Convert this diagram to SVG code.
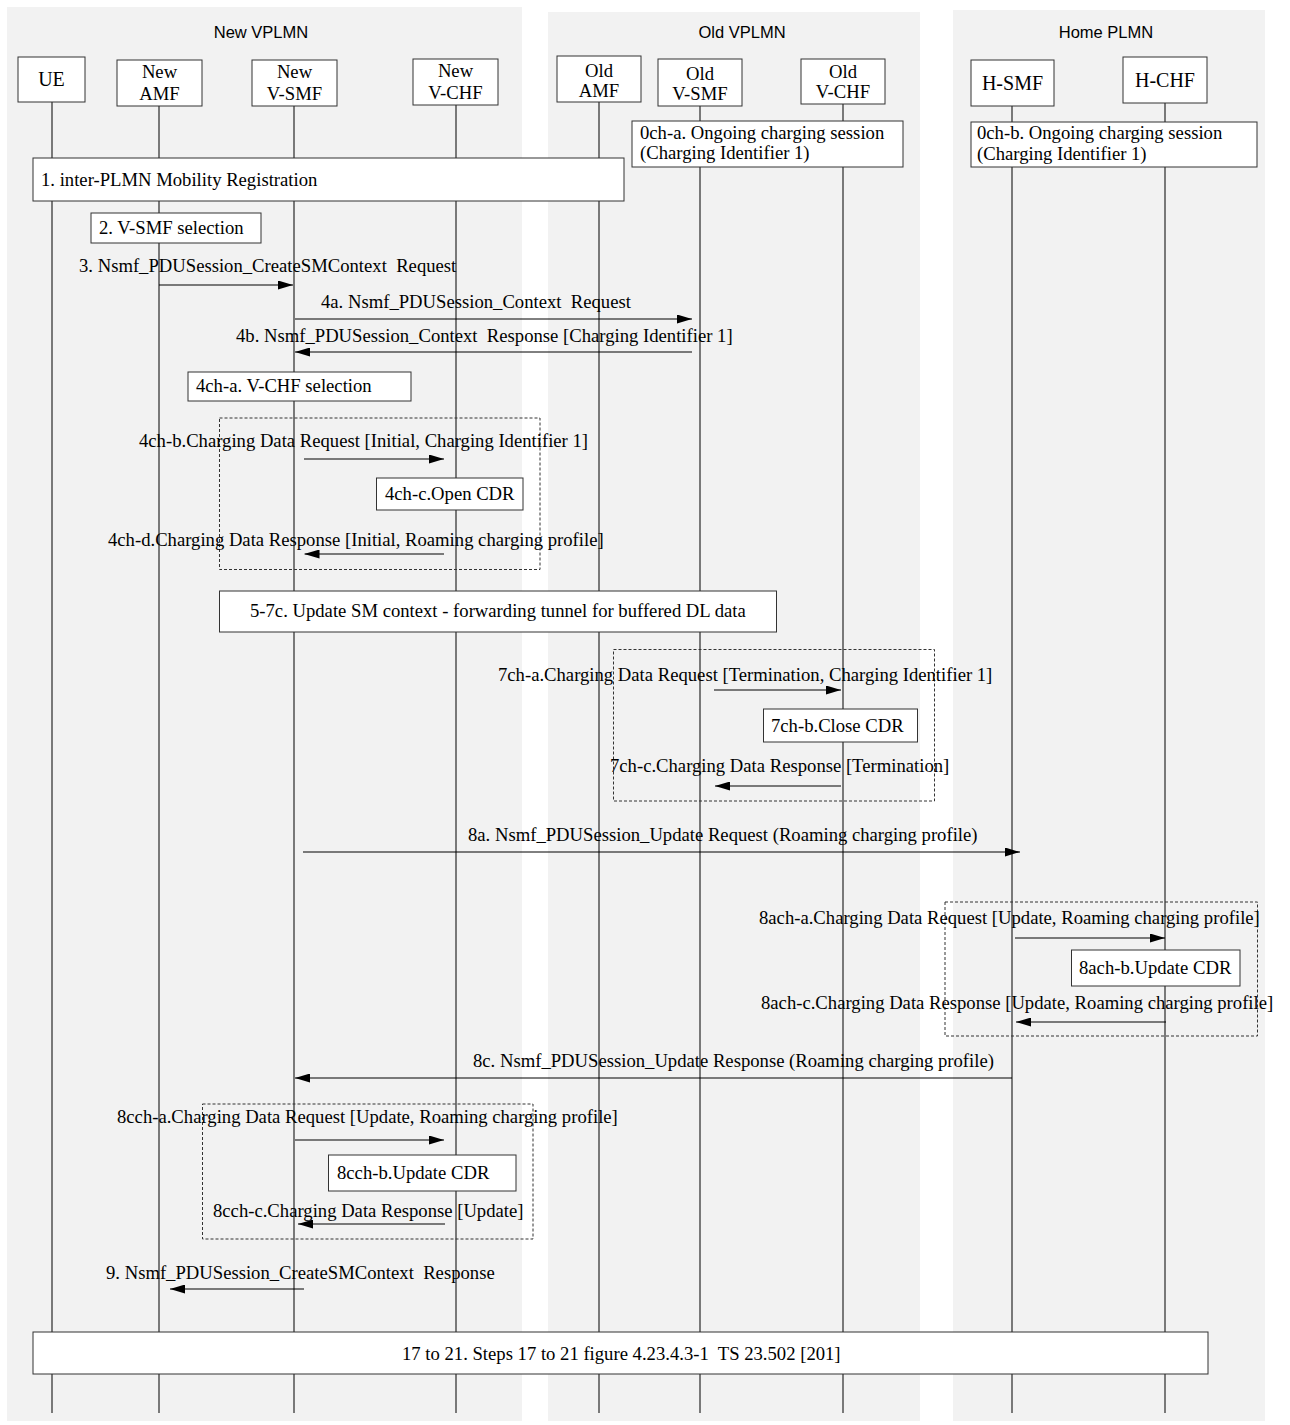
<svg xmlns="http://www.w3.org/2000/svg" width="1290" height="1425" viewBox="0 0 1290 1425">
<style>
.panel{fill:#f2f2f2;stroke:none}
.title{font-family:"Liberation Sans",Arial,sans-serif;font-size:16.5px;fill:#000;text-anchor:middle}
.box{fill:#fff;stroke:#333;stroke-width:1}
.dash{fill:none;stroke:#333;stroke-width:1;stroke-dasharray:3,2}
.nl{font-family:"Liberation Serif","Times New Roman",serif;font-size:18.67px;fill:#000;text-anchor:middle}
.nl1{font-family:"Liberation Serif","Times New Roman",serif;font-size:20px;fill:#000;text-anchor:middle}
.t{font-family:"Liberation Serif","Times New Roman",serif;font-size:18.67px;fill:#000}
.life{stroke:#000;stroke-width:1}
.msg{stroke:#000;stroke-width:1;fill:none;marker-end:url(#ah)}
</style>
<defs>
<marker id="ah" markerUnits="userSpaceOnUse" markerWidth="15" markerHeight="9" refX="15" refY="4.5" orient="auto">
<path d="M0,0 L15,4.5 L0,9 z" fill="#000"/>
</marker>
</defs>
<g id="panels">
<rect class="panel" x="7" y="7" width="515" height="1414"/>
<rect class="panel" x="548" y="12" width="372" height="1409"/>
<rect class="panel" x="953" y="10" width="312" height="1411"/>
<text class="title" x="261" y="38">New VPLMN</text>
<text class="title" x="742" y="38">Old VPLMN</text>
<text class="title" x="1106" y="38">Home PLMN</text>
</g>
<g id="lifelines">
<line class="life" x1="52" y1="102" x2="52" y2="1413"/>
<line class="life" x1="159" y1="106" x2="159" y2="1413"/>
<line class="life" x1="294" y1="106" x2="294" y2="1413"/>
<line class="life" x1="456" y1="105" x2="456" y2="1413"/>
<line class="life" x1="599" y1="102" x2="599" y2="1413"/>
<line class="life" x1="700" y1="106" x2="700" y2="1413"/>
<line class="life" x1="843" y1="104" x2="843" y2="1413"/>
<line class="life" x1="1012" y1="106" x2="1012" y2="1413"/>
<line class="life" x1="1165" y1="103" x2="1165" y2="1413"/>
</g>
<g id="node-ue"><rect class="box" x="18" y="57" width="67" height="45"/><text class="nl1" x="51.5" y="86">UE</text></g>
<g id="node-new-amf"><rect class="box" x="117" y="60" width="85" height="46"/><text class="nl" x="159.5" y="78">New</text><text class="nl" x="159.5" y="100">AMF</text></g>
<g id="node-new-vsmf"><rect class="box" x="252" y="60" width="85" height="46"/><text class="nl" x="294.5" y="78">New</text><text class="nl" x="294.5" y="100">V-SMF</text></g>
<g id="node-new-vchf"><rect class="box" x="413" y="59" width="85" height="46"/><text class="nl" x="455.5" y="77">New</text><text class="nl" x="455.5" y="99">V-CHF</text></g>
<g id="node-old-amf"><rect class="box" x="557" y="56" width="84" height="46"/><text class="nl" x="599" y="77">Old</text><text class="nl" x="599" y="97">AMF</text></g>
<g id="node-old-vsmf"><rect class="box" x="658" y="59" width="84" height="47"/><text class="nl" x="700" y="80">Old</text><text class="nl" x="700" y="100">V-SMF</text></g>
<g id="node-old-vchf"><rect class="box" x="801" y="59" width="84" height="45"/><text class="nl" x="843" y="78">Old</text><text class="nl" x="843" y="98">V-CHF</text></g>
<g id="node-hsmf"><rect class="box" x="971" y="60" width="83" height="46"/><text class="nl1" x="1012.5" y="90">H-SMF</text></g>
<g id="node-hchf"><rect class="box" x="1123" y="57" width="84" height="46"/><text class="nl1" x="1165" y="87">H-CHF</text></g>
<g id="step-0ch-a"><rect class="box" x="632" y="121" width="271" height="46"/><text class="t" x="640" y="139">0ch-a. Ongoing charging session</text><text class="t" x="640" y="159">(Charging Identifier 1)</text></g>
<g id="step-0ch-b"><rect class="box" x="971" y="122" width="286" height="45"/><text class="t" x="977" y="139">0ch-b. Ongoing charging session</text><text class="t" x="977" y="160">(Charging Identifier 1)</text></g>
<g id="step-1"><rect class="box" x="33" y="158" width="591" height="43"/><text class="t" x="41" y="186">1. inter-PLMN Mobility Registration</text></g>
<g id="step-2"><rect class="box" x="91" y="213" width="170" height="30"/><text class="t" x="99" y="234">2. V-SMF selection</text></g>
<g id="step-4ch-a"><rect class="box" x="188" y="372" width="223" height="29"/><text class="t" x="196" y="392">4ch-a. V-CHF selection</text></g>
<g id="group-4ch"><rect class="dash" x="219.5" y="418" width="320.5" height="151.5"/></g>
<g id="step-4ch-c"><rect class="box" x="376.5" y="478" width="146.5" height="32"/><text class="t" x="385" y="500">4ch-c.Open CDR</text></g>
<g id="step-5-7c"><rect class="box" x="219.5" y="591" width="557" height="41"/><text class="t" x="250" y="617">5-7c. Update SM context - forwarding tunnel for buffered DL data</text></g>
<g id="group-7ch"><rect class="dash" x="613.5" y="649.5" width="321" height="151.5"/></g>
<g id="step-7ch-b"><rect class="box" x="763.5" y="709" width="154" height="33"/><text class="t" x="771" y="732">7ch-b.Close CDR</text></g>
<g id="group-8ach"><rect class="dash" x="945" y="902" width="312.5" height="134"/></g>
<g id="step-8ach-b"><rect class="box" x="1071.5" y="950" width="168.5" height="36"/><text class="t" x="1079" y="974">8ach-b.Update CDR</text></g>
<g id="group-8cch"><rect class="dash" x="202.5" y="1104" width="330.5" height="135"/></g>
<g id="step-8cch-b"><rect class="box" x="328.5" y="1155" width="187.5" height="36"/><text class="t" x="337" y="1179">8cch-b.Update CDR</text></g>
<g id="step-17-21"><rect class="box" x="33" y="1332" width="1175" height="42"/><text class="t" x="402" y="1359.5" xml:space="preserve">17 to 21. Steps 17 to 21 figure 4.23.4.3-1  TS 23.502 [201]</text></g>
<g id="connectors">
<path class="msg" d="M159,285 H293"/>
<path class="msg" d="M295,319 H692"/>
<path class="msg" d="M692,352 H295"/>
<path class="msg" d="M304,459 H444"/>
<path class="msg" d="M444,554 H304.5"/>
<path class="msg" d="M714,690 H841"/>
<path class="msg" d="M841,786 H715"/>
<path class="msg" d="M303,852 H1020"/>
<path class="msg" d="M1015,938 H1165"/>
<path class="msg" d="M1166,1022 H1016"/>
<path class="msg" d="M1012,1078 H295"/>
<path class="msg" d="M295,1140 H444"/>
<path class="msg" d="M445,1224 H298"/>
<path class="msg" d="M304,1289 H170"/>
</g>
<g id="labels">
<text class="t" x="79" y="271.5" xml:space="preserve">3. Nsmf_PDUSession_CreateSMContext  Request</text>
<text class="t" x="321" y="308" xml:space="preserve">4a. Nsmf_PDUSession_Context  Request</text>
<text class="t" x="236" y="342" xml:space="preserve">4b. Nsmf_PDUSession_Context  Response [Charging Identifier 1]</text>
<text class="t" x="139" y="447">4ch-b.Charging Data Request [Initial, Charging Identifier 1]</text>
<text class="t" x="108" y="546">4ch-d.Charging Data Response [Initial, Roaming charging profile]</text>
<text class="t" x="498" y="680.5">7ch-a.Charging Data Request [Termination, Charging Identifier 1]</text>
<text class="t" x="610" y="771.5">7ch-c.Charging Data Response [Termination]</text>
<text class="t" x="468" y="841">8a. Nsmf_PDUSession_Update Request (Roaming charging profile)</text>
<text class="t" x="759" y="924">8ach-a.Charging Data Request [Update, Roaming charging profile]</text>
<text class="t" x="761" y="1009">8ach-c.Charging Data Response [Update, Roaming charging profile]</text>
<text class="t" x="473" y="1066.5">8c. Nsmf_PDUSession_Update Response (Roaming charging profile)</text>
<text class="t" x="117" y="1123">8cch-a.Charging Data Request [Update, Roaming charging profile]</text>
<text class="t" x="213" y="1216.5">8cch-c.Charging Data Response [Update]</text>
<text class="t" x="106" y="1279" xml:space="preserve">9. Nsmf_PDUSession_CreateSMContext  Response</text>
</g>
</svg>
